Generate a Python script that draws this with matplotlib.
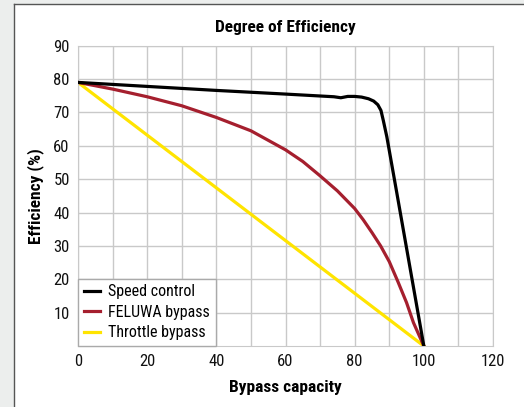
import numpy as np
import matplotlib
matplotlib.use("Agg")
from matplotlib import pyplot as plt
from matplotlib.patches import Rectangle
from matplotlib.lines import Line2D

plt.rcParams['font.family'] = ['DejaVu Sans Condensed', 'Roboto Condensed', 'Roboto', 'DejaVu Sans']

# data
speed_x = [0, 20, 40, 60, 74, 76, 78, 80, 82, 84, 85.5, 86.7, 87.6, 88.3, 89.3, 92.2, 100]
speed_y = [79, 77.8, 76.6, 75.5, 74.7, 74.4, 74.8, 74.8, 74.6, 74.1, 73.4, 72.3, 70.6, 67.5, 62.7, 45.8, 0]

feluwa_x = [0, 10, 20, 30, 40, 50, 60, 65, 70, 75, 80, 82.5, 85, 87.5, 90, 92.5, 95, 97, 100]
feluwa_y = [79, 77, 74.7, 72, 68.5, 64.5, 58.8, 55.3, 51, 46.5, 41.2, 37.8, 34, 30, 25.3, 19.3, 13, 7, 0]

throttle_x = [0, 100]
throttle_y = [79, 0]

labels = ["Speed control", "FELUWA bypass", "Throttle bypass"]
colors = ["#000000", "#a51f2e", "#ffe400"]

xticks = np.arange(0, 121, 20)
yticks = np.arange(10, 91, 10)

fig = plt.figure(figsize=(5.24, 4.07), dpi=100)
fig.patch.set_facecolor("white")

# gray frame on left / top like the page it was cut from
fig.patches.append(Rectangle((0, 0), 13.5 / 524, 1, transform=fig.transFigure,
                             facecolor="#eceeed", edgecolor="none", zorder=0))
fig.patches.append(Rectangle((0, 1 - 3.5 / 407), 1, 3.5 / 407, transform=fig.transFigure,
                             facecolor="#eceeed", edgecolor="none", zorder=0))
fig.lines.append(Line2D([13.5 / 524, 13.5 / 524], [0, 1 - 3.5 / 407], transform=fig.transFigure,
                        color="#555555", lw=1.0))
fig.lines.append(Line2D([13.5 / 524, 1], [1 - 3.5 / 407, 1 - 3.5 / 407], transform=fig.transFigure,
                        color="#555555", lw=1.0))

ax = fig.add_axes([78 / 524, 1 - 346 / 407, 415 / 524, 300.3 / 407])

ax.plot(speed_x, speed_y, color=colors[0], lw=2.3, label=labels[0], zorder=4)
ax.plot(feluwa_x, feluwa_y, color=colors[1], lw=2.3, label=labels[1], zorder=3)
ax.plot(throttle_x, throttle_y, color=colors[2], lw=2.3, label=labels[2], zorder=2)

ax.set_xlim(0, 120)
ax.set_ylim(0, 90)
ax.set_xticks(np.arange(0, 121, 10), minor=True)
ax.set_xticks(xticks)
ax.set_yticks(yticks)
ax.grid(True, which="both", color="#c9c9c9", lw=1.0)
ax.set_axisbelow(True)
ax.tick_params(which="both", length=0, labelsize=12, pad=6, colors="#111111")
for s in ax.spines.values():
    s.set_color("#c9c9c9")

ax.set_title("Degree of Efficiency", fontsize=12.5, fontweight="bold", pad=10)
ax.set_xlabel("Bypass capacity", fontsize=12.5, fontweight="bold", labelpad=8)
ax.set_ylabel("Efficiency (%)", fontsize=12.5, fontweight="bold", labelpad=7)

leg = ax.legend(loc="lower left", bbox_to_anchor=(0, 0, 40 / 120, 0.2), mode="expand",
                fontsize=11.5, frameon=True, fancybox=False,
                edgecolor="#aaaaaa", framealpha=1, borderaxespad=0,
                handlelength=1.0, handletextpad=0.5, labelspacing=0.35, borderpad=0.35)
leg.get_frame().set_linewidth(1.0)

fig.savefig("out.png", dpi=100)
